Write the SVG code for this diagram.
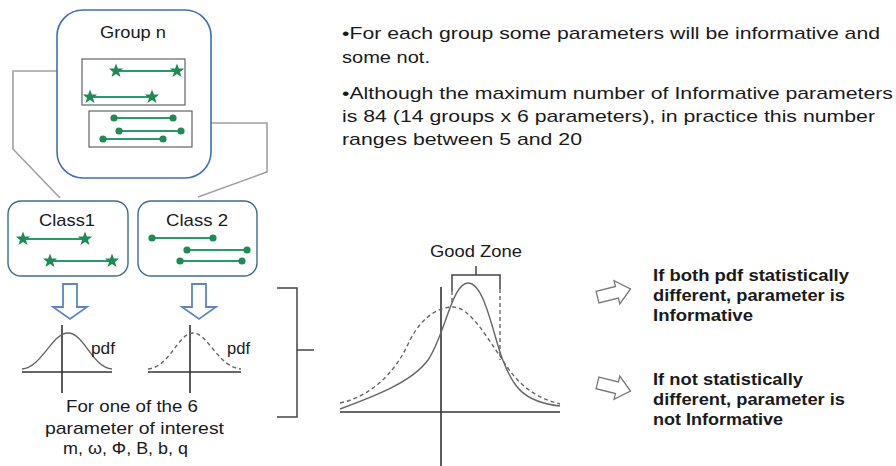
<svg xmlns="http://www.w3.org/2000/svg" xmlns:xlink="http://www.w3.org/1999/xlink" width="896" height="466" viewBox="0 0 896 466">
<style>
  .t{font-family:"Liberation Sans",Arial,sans-serif;font-size:17px;fill:#1a1a1a}
  .b{font-family:"Liberation Sans",Arial,sans-serif;font-size:17px;font-weight:bold;fill:#1a1a1a}
  .grp{fill:#fff;stroke:#3f6fb2;stroke-width:1.6}
  .cls{fill:#fff;stroke:#3c6e8c;stroke-width:1.4}
  .inner{fill:none;stroke:#555;stroke-width:1.1}
  .gl{stroke:#2a9a68;stroke-width:1.8}
  .dot{fill:#1f8a55}
  .conn{fill:none;stroke:#a0a0a0;stroke-width:1.6}
  .axis{fill:none;stroke:#333;stroke-width:1.6}
  .curve{fill:none;stroke:#666;stroke-width:1.4}
  .dash{fill:none;stroke:#666;stroke-width:1.4;stroke-dasharray:4 3}
  .darr{fill:#fff;stroke:#5b86c0;stroke-width:1.8}
  .rarr{fill:#fff;stroke:#777;stroke-width:1.3}
  .brk{fill:none;stroke:#444;stroke-width:1.5}
</style>
<defs>
  <polygon id="star" points="0,-7.5 1.9,-2.5 7.1,-2.4 3,1 4.5,6.1 0,3.1 -4.5,6.1 -3,1 -7.1,-2.4 -1.9,-2.5" fill="#1f8a55"/>
</defs>

<g id="connectors">
  <polyline class="conn" points="80,71 13,71 13,149 60,198"/>
  <polyline class="conn" points="194,123 267,123 267,172 198,197"/>
</g>

<g id="group-n">
  <rect class="grp" x="57" y="10" width="154" height="168" rx="26"/>
  <text class="t" x="133" y="38" text-anchor="middle" textLength="66" lengthAdjust="spacingAndGlyphs">Group n</text>
  <rect class="inner" x="82" y="59" width="103" height="46"/>
  <line class="gl" x1="116" y1="71" x2="177" y2="71"/>
  <use xlink:href="#star" x="116" y="71"/>
  <use xlink:href="#star" x="177" y="71"/>
  <line class="gl" x1="90" y1="97" x2="152" y2="97"/>
  <use xlink:href="#star" x="90" y="97"/>
  <use xlink:href="#star" x="152" y="97"/>
  <rect class="inner" x="89" y="111" width="103" height="36"/>
  <line class="gl" x1="114" y1="118" x2="173" y2="118"/>
  <circle class="dot" cx="114" cy="118" r="3.6"/><circle class="dot" cx="173" cy="118" r="3.6"/>
  <line class="gl" x1="119" y1="131" x2="181" y2="131"/>
  <circle class="dot" cx="119" cy="131" r="3.6"/><circle class="dot" cx="181" cy="131" r="3.6"/>
  <line class="gl" x1="103" y1="139" x2="163" y2="139"/>
  <circle class="dot" cx="103" cy="139" r="3.6"/><circle class="dot" cx="163" cy="139" r="3.6"/>
</g>

<g id="class1">
  <rect class="cls" x="8" y="201" width="120" height="75" rx="13"/>
  <text class="t" x="67" y="226" text-anchor="middle" textLength="56" lengthAdjust="spacingAndGlyphs">Class1</text>
  <line class="gl" x1="23" y1="239" x2="85" y2="239"/>
  <use xlink:href="#star" x="23" y="239"/><use xlink:href="#star" x="85" y="239"/>
  <line class="gl" x1="50" y1="261" x2="112" y2="261"/>
  <use xlink:href="#star" x="50" y="261"/><use xlink:href="#star" x="112" y="261"/>
</g>

<g id="class2">
  <rect class="cls" x="138" y="201" width="119" height="75" rx="13"/>
  <text class="t" x="197" y="226" text-anchor="middle" textLength="62" lengthAdjust="spacingAndGlyphs">Class 2</text>
  <line class="gl" x1="152" y1="238" x2="213" y2="238"/>
  <circle class="dot" cx="152" cy="238" r="3.6"/><circle class="dot" cx="213" cy="238" r="3.6"/>
  <line class="gl" x1="187" y1="250" x2="247" y2="250"/>
  <circle class="dot" cx="187" cy="250" r="3.6"/><circle class="dot" cx="247" cy="250" r="3.6"/>
  <line class="gl" x1="180" y1="261" x2="242" y2="261"/>
  <circle class="dot" cx="180" cy="261" r="3.6"/><circle class="dot" cx="242" cy="261" r="3.6"/>
</g>

<g id="arrow-class1">
  <path class="darr" d="M63,284 L77,284 L77,307 L87,307 L70,319 L53,307 L63,307 Z"/>
</g>
<g id="arrow-class2">
  <path class="darr" d="M192,284 L206,284 L206,307 L216,307 L199,319 L182,307 L192,307 Z"/>
</g>

<g id="pdf1">
  <line class="axis" x1="22" y1="372" x2="112" y2="372"/>
  <line class="axis" x1="62" y1="325" x2="62" y2="393"/>
  <path class="curve" d="M22,369 C42,367 52,333 68,333 C84,333 92,367 112,369"/>
  <text class="t" x="91" y="354" textLength="24" lengthAdjust="spacingAndGlyphs">pdf</text>
</g>

<g id="pdf2">
  <line class="axis" x1="148" y1="372" x2="241" y2="372"/>
  <line class="axis" x1="190" y1="325" x2="190" y2="393"/>
  <path class="dash" d="M148,369 C170,367 178,333 193,333 C208,333 218,367 241,369"/>
  <text class="t" x="227" y="354" textLength="23" lengthAdjust="spacingAndGlyphs">pdf</text>
</g>

<g id="param-label">
  <text class="t" x="66" y="412" textLength="132" lengthAdjust="spacingAndGlyphs">For one of the 6</text>
  <text class="t" x="45" y="434" textLength="179" lengthAdjust="spacingAndGlyphs">parameter of interest</text>
  <text class="t" x="63" y="454" textLength="125" lengthAdjust="spacingAndGlyphs">m, ω, Φ, B, b, q</text>
</g>

<g id="bracket">
  <polyline class="brk" points="277,288 297,288 297,417 277,417"/>
  <line class="brk" x1="297" y1="350" x2="314" y2="350"/>
</g>

<g id="combined-plot">
  <line class="axis" x1="340" y1="412" x2="560" y2="412"/>
  <line class="axis" x1="441" y1="287" x2="441" y2="466"/>
  <path class="dash" d="M340,403 C372,396 396,372 410,340 C423,315 440,307 453,307 C470,307 487,338 500,356 C512,375 525,395 560,404"/>
  <path class="curve" d="M340,409 C375,396 412,382 428,360 C445,335 452,283 468,283 C484,283 492,330 502,358 C512,385 522,402 560,406"/>
  <polyline class="brk" points="452,291 452,275 500,275 500,289"/>
  <line class="brk" x1="476" y1="275" x2="476" y2="266"/>
  <line class="dash" x1="452" y1="291" x2="452" y2="304"/>
  <line class="dash" x1="500" y1="289" x2="500" y2="360"/>
  <text class="t" x="430" y="257" textLength="92" lengthAdjust="spacingAndGlyphs">Good Zone</text>
</g>

<g id="arrow-informative">
  <path class="rarr" transform="translate(614,293) rotate(-14)" d="M-17,-6 L3,-6 L3,-12 L17,0 L3,12 L3,6 L-17,6 Z"/>
</g>
<g id="text-informative">
  <text class="b" x="653" y="281" textLength="196" lengthAdjust="spacingAndGlyphs">If both pdf statistically</text>
  <text class="b" x="653" y="301" textLength="192" lengthAdjust="spacingAndGlyphs">different, parameter is</text>
  <text class="b" x="653" y="321" textLength="100" lengthAdjust="spacingAndGlyphs">Informative</text>
</g>
<g id="arrow-not-informative">
  <path class="rarr" transform="translate(614,387) rotate(14)" d="M-17,-6 L3,-6 L3,-12 L17,0 L3,12 L3,6 L-17,6 Z"/>
</g>
<g id="text-not-informative">
  <text class="b" x="653" y="385" textLength="150" lengthAdjust="spacingAndGlyphs">If not statistically</text>
  <text class="b" x="653" y="405" textLength="192" lengthAdjust="spacingAndGlyphs">different, parameter is</text>
  <text class="b" x="653" y="425" textLength="130" lengthAdjust="spacingAndGlyphs">not Informative</text>
</g>

<g id="notes">
  <text class="t" x="342" y="39" textLength="538" lengthAdjust="spacingAndGlyphs">•For each group some parameters will be informative and</text>
  <text class="t" x="342" y="63" textLength="88" lengthAdjust="spacingAndGlyphs">some not.</text>
  <text class="t" x="342" y="99" textLength="551" lengthAdjust="spacingAndGlyphs">•Although the maximum number of Informative parameters</text>
  <text class="t" x="342" y="122" textLength="533" lengthAdjust="spacingAndGlyphs">is 84 (14 groups x 6 parameters), in practice this number</text>
  <text class="t" x="342" y="145" textLength="240" lengthAdjust="spacingAndGlyphs">ranges between 5 and 20</text>
</g>
</svg>
